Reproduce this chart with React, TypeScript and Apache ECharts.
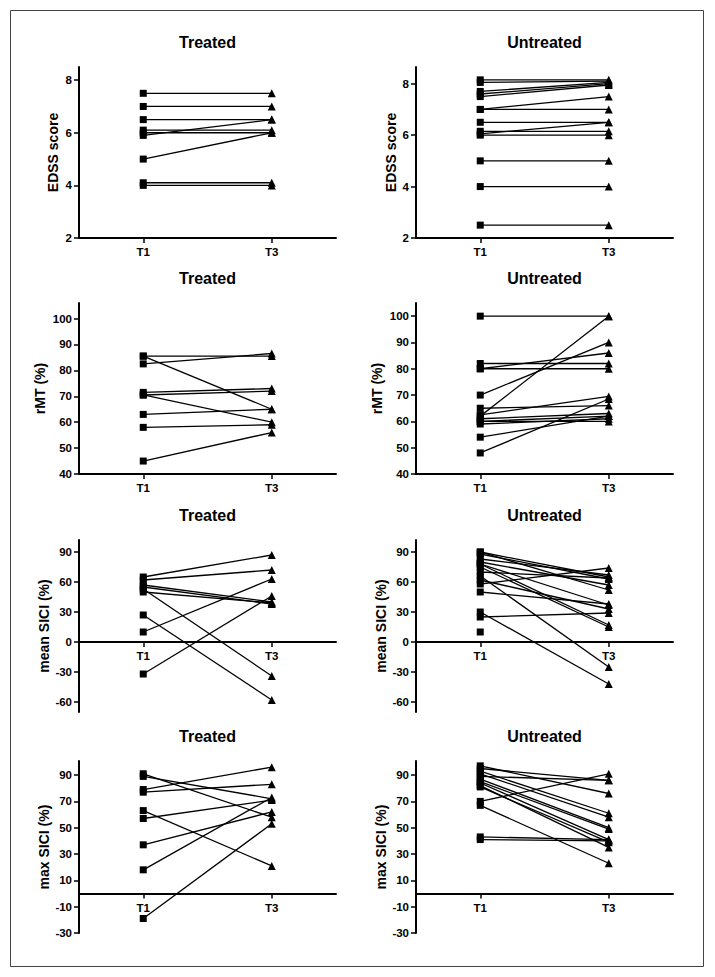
import React, { useEffect, useRef } from 'react';
import * as echarts from 'echarts';

// ---------- data ----------
const timePoints = ['T1', 'T3'];
const groupTitles = ['Treated', 'Untreated'];

const edssTicks = [2, 4, 6, 8];
const rmtTicks = [40, 50, 60, 70, 80, 90, 100];
const meanSiciTicks = [-60, -30, 0, 30, 60, 90];
const maxSiciTicks = [-30, -10, 10, 30, 50, 70, 90];

const treatedEDSS_T1 = [7.5, 7, 6.5, 5.9, 6.1, 6, 5, 4.1, 4];
const treatedEDSS_T3 = [7.5, 7, 6.5, 6.5, 6.1, 6, 6, 4.1, 4];
const untreatedEDSS_T1 = [8.15, 8.05, 7.7, 7.6, 7.5, 7, 7, 6.5, 6.05, 6.15, 6, 5, 4, 2.5];
const untreatedEDSS_T3 = [8.15, 8.1, 8.05, 8.0, 7.95, 7.5, 7, 6.5, 6.5, 6.15, 6, 5, 4, 2.5];

const treatedRMT_T1 = [85.5, 85.5, 82.5, 71.5, 70.5, 70.5, 63, 58, 45];
const treatedRMT_T3 = [85.5, 65, 86.5, 73, 72, 60, 65, 59, 56];
const untreatedRMT_T1 = [100, 62, 70, 80, 82, 80, 65, 62.5, 48, 61, 60, 59, 54, 60];
const untreatedRMT_T3 = [100, 100, 90, 86, 82, 80, 66, 69.5, 68.5, 63, 62, 61, 62, 60];

const treatedMeanSICI_T1 = [65, 62, 57, 55, 50, 53, 27, 10, -32];
const treatedMeanSICI_T3 = [87, 72, 40, 38, 39, -34, -58, 63, 46];
const untreatedMeanSICI_T1 = [90, 90, 88, 83, 80, 78, 78, 75, 70, 66, 62, 58, 50, 30, 25, 10];
const untreatedMeanSICI_T3 = [65, 52, 63, 67, 57, 37, 17, 15, 64, -25, 33, 74, 38, -42, 29, null];

const treatedMaxSICI_T1 = [91, 89, 79, 77, 63, 57, 37, 18, -19];
const treatedMaxSICI_T3 = [58, 72, 96, 83, 21, 71, 62, 73, 53];
const untreatedMaxSICI_T1 = [97, 95, 93, 91, 89, 87, 85, 84, 82, 81, 70, 67, 43, 41];
const untreatedMaxSICI_T3 = [76, 86, 61, 58, 86, 50, 49, 41, 35, 39, 91, 23, 41, 40];

// ---------- layout ----------
const colLeft = [79, 416];
const gridWidth = 257;
const rowTop = [67, 303, 540, 761];
const rowHeight = [171, 171, 172, 172];
const titleY = [42, 278, 515, 736];
const FONT = 'Liberation Sans, Arial, Helvetica, sans-serif';

type Panel = {
  name: string; ticks: number[]; min: number; max: number; nameGap: number;
  t1: (number | null)[]; t3: (number | null)[];
};

const panels: Panel[] = [
  { name: 'EDSS score', ticks: edssTicks, min: 2, max: 8.5, nameGap: 19, t1: treatedEDSS_T1, t3: treatedEDSS_T3 },
  { name: 'EDSS score', ticks: edssTicks, min: 2, max: 8.65, nameGap: 18, t1: untreatedEDSS_T1, t3: untreatedEDSS_T3 },
  { name: 'rMT (%)', ticks: rmtTicks, min: 40, max: 106, nameGap: 32, t1: treatedRMT_T1, t3: treatedRMT_T3 },
  { name: 'rMT (%)', ticks: rmtTicks, min: 40, max: 105, nameGap: 32, t1: untreatedRMT_T1, t3: untreatedRMT_T3 },
  { name: 'mean SICI (%)', ticks: meanSiciTicks, min: -70, max: 102, nameGap: 27, t1: treatedMeanSICI_T1, t3: treatedMeanSICI_T3 },
  { name: 'mean SICI (%)', ticks: meanSiciTicks, min: -70, max: 102, nameGap: 27, t1: untreatedMeanSICI_T1, t3: untreatedMeanSICI_T3 },
  { name: 'max SICI (%)', ticks: maxSiciTicks, min: -30, max: 100.7, nameGap: 24, t1: treatedMaxSICI_T1, t3: treatedMaxSICI_T3 },
  { name: 'max SICI (%)', ticks: maxSiciTicks, min: -30, max: 100.7, nameGap: 24, t1: untreatedMaxSICI_T1, t3: untreatedMaxSICI_T3 },
];

function buildOption() {
  const grid: any[] = [];
  const xAxis: any[] = [];
  const yAxis: any[] = [];
  const series: any[] = [];
  const graphic: any[] = [
    {
      type: 'rect',
      shape: { x: 10.5, y: 10.5, width: 693, height: 956 },
      style: { fill: 'none', stroke: '#444', lineWidth: 1 },
      silent: true,
    },
  ];
  const labelStyle = { color: '#000', fontFamily: FONT, fontWeight: 'bold', fontSize: 11.5 };

  panels.forEach((p, i) => {
    const col = i % 2;
    const row = Math.floor(i / 2);
    const h = rowHeight[row];
    // x axis sits on the value 0 when 0 lies inside the y range
    const zeroOffset = p.min < 0 && p.max > 0 ? -h * (0 - p.min) / (p.max - p.min) : 0;
    grid.push({ left: colLeft[col], top: rowTop[row], width: gridWidth, height: h, containLabel: false });
    xAxis.push({
      type: 'category',
      gridIndex: i,
      data: timePoints,
      boundaryGap: true,
      position: 'bottom',
      offset: zeroOffset,
      axisLine: { show: true, onZero: false, lineStyle: { color: '#000', width: 2 } },
      axisTick: { show: true, alignWithLabel: true, length: 5, lineStyle: { color: '#000', width: 1.5 } },
      axisLabel: { ...labelStyle, margin: 8 },
      splitLine: { show: false },
    });
    yAxis.push({
      type: 'value',
      gridIndex: i,
      min: p.min,
      max: p.max,
      name: p.name,
      nameLocation: 'middle',
      nameGap: p.nameGap,
      nameTextStyle: { color: '#000', fontFamily: FONT, fontWeight: 'bold', fontSize: 14 },
      axisLine: { show: true, onZero: false, lineStyle: { color: '#000', width: 2 } },
      axisTick: { show: true, length: 5, customValues: p.ticks, lineStyle: { color: '#000', width: 1.5 } },
      axisLabel: { ...labelStyle, margin: 7, customValues: p.ticks },
      splitLine: { show: false },
    });
    graphic.push({
      type: 'text',
      x: colLeft[col] + gridWidth / 2,
      y: titleY[row],
      style: {
        text: groupTitles[col],
        fill: '#000',
        font: `bold 16px ${FONT}`,
        textAlign: 'center',
        textVerticalAlign: 'middle',
      },
      silent: true,
    });
    p.t1.forEach((v, k) => {
      const v3 = p.t3[k];
      series.push({
        type: 'line',
        xAxisIndex: i,
        yAxisIndex: i,
        data: [
          { value: v, symbol: 'rect', symbolSize: 7 },
          v3 === null ? { value: '-' } : { value: v3, symbol: 'triangle', symbolSize: 8 },
        ],
        showAllSymbol: true,
        lineStyle: { color: '#000', width: 1.3 },
        itemStyle: { color: '#000' },
        emphasis: { disabled: true },
        z: 3,
      });
    });
  });

  return {
    animation: false,
    backgroundColor: '#fff',
    grid,
    xAxis,
    yAxis,
    series,
    graphic,
  };
}

export default function App() {
  const ref = useRef<HTMLDivElement>(null);
  useEffect(() => {
    if (!ref.current) return;
    const chart = echarts.init(ref.current, undefined, { renderer: 'svg' });
    chart.setOption(buildOption() as any);
    return () => chart.dispose();
  }, []);
  return (
    <div
      ref={ref}
      style={{ position: 'absolute', left: 0, top: 0, width: 715, height: 977, background: '#fff' }}
    />
  );
}
